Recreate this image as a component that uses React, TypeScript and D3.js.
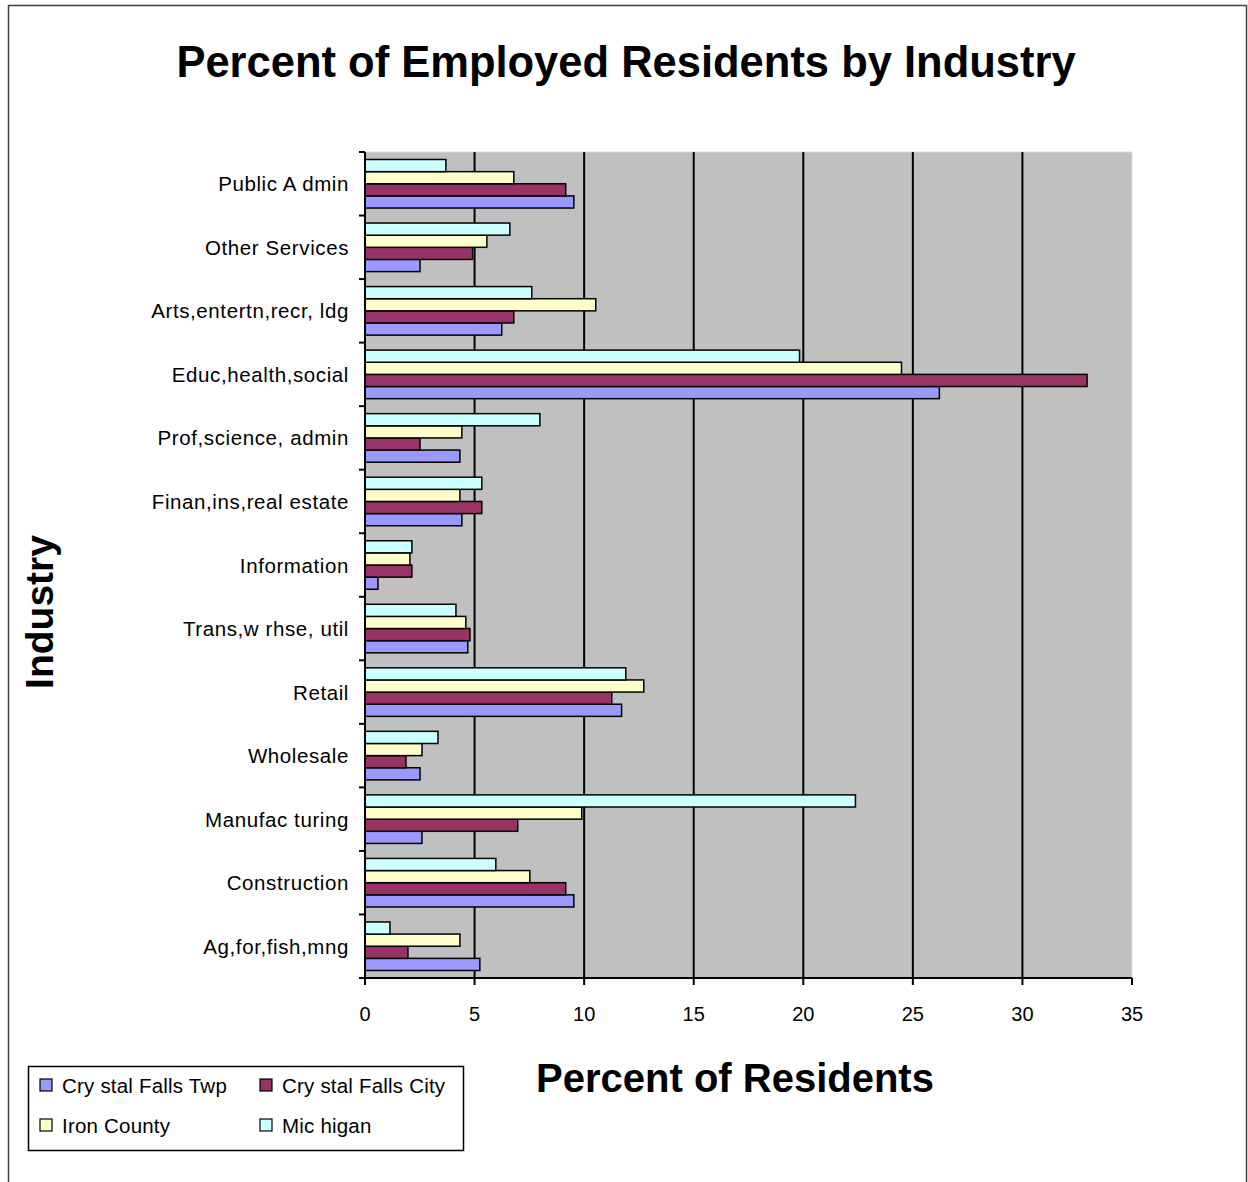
import React from "react";
import * as d3 from "d3";

const categories = [
  "Ag,for,fish,mng",
  "Construction",
  "Manufac turing",
  "Wholesale",
  "Retail",
  "Trans,w rhse, util",
  "Information",
  "Finan,ins,real estate",
  "Prof,science, admin",
  "Educ,health,social",
  "Arts,entertn,recr, ldg",
  "Other Services",
  "Public A dmin",
];

const twp = [5.24, 9.53, 2.6, 2.51, 11.71, 4.69, 0.59, 4.42, 4.33, 26.21, 6.24, 2.51, 9.53];
const city = [1.96, 9.16, 6.97, 1.87, 11.26, 4.79, 2.14, 5.33, 2.51, 32.95, 6.79, 4.91, 9.16];
const iron = [4.33, 7.52, 9.89, 2.6, 12.72, 4.6, 2.05, 4.33, 4.42, 24.48, 10.53, 5.56, 6.79];
const michigan = [1.14, 5.97, 22.38, 3.33, 11.9, 4.15, 2.14, 5.33, 7.98, 19.83, 7.61, 6.61, 3.69];

const seriesNames = ["Cry stal Falls Twp", "Cry stal Falls City", "Iron County", "Mic higan"];
const seriesColors = ["#9999FF", "#993366", "#FFFFCC", "#CCFFFF"];
const xTicks = [0, 5, 10, 15, 20, 25, 30, 35];

const FONT = "'Liberation Sans', Arial, sans-serif";

export default function App() {
  const W = 1248, H = 1182;
  const left = 365, right = 1132, top = 152, bottom = 978;
  const x = d3.scaleLinear().domain([0, 35]).range([left, right]);
  const y = d3.scaleBand<string>().domain(categories.slice().reverse()).range([top, bottom]).paddingInner(0).paddingOuter(0);
  const bw = y.bandwidth();
  const pad = bw * 0.118;
  const inner = d3.scaleBand<number>().domain([3, 2, 1, 0]).range([pad, bw - pad]);
  const series = [twp, city, iron, michigan];

  return (
    <svg width={W} height={H} style={{ position: "absolute", left: 0, top: 0, background: "#fff" }} fontFamily={FONT}>
      <rect x={0} y={0} width={W} height={H} fill="#fff" />
      <rect x={8.5} y={5.5} width={1238} height={1190} fill="none" stroke="#404040" strokeWidth={1.5} />
      <text x={626} y={77} textAnchor="middle" fontSize={43.5} fontWeight="bold">
        Percent of Employed Residents by Industry
      </text>

      <rect x={left} y={top} width={right - left} height={bottom - top} fill="#C0C0C0" stroke="#dcdcdc" strokeWidth={1} />
      {xTicks.slice(1, -1).map((t) => (
        <line key={t} x1={x(t)} x2={x(t)} y1={top} y2={bottom} stroke="#000" strokeWidth={2} />
      ))}

      {categories.map((c, i) => (
        <g key={c} transform={`translate(0,${y(c)})`}>
          {series.map((s, si) => (
            <rect
              key={si}
              x={x(0)}
              y={inner(si)}
              width={x(s[i]) - x(0)}
              height={inner.bandwidth()}
              fill={seriesColors[si]}
              stroke="#000"
              strokeWidth={1.5}
            />
          ))}
        </g>
      ))}

      <line x1={left} x2={left} y1={top} y2={bottom} stroke="#000" strokeWidth={2} />
      {d3.range(categories.length + 1).map((k) => {
        const yy = top + k * bw;
        return <line key={k} x1={left - 6} x2={left} y1={yy} y2={yy} stroke="#000" strokeWidth={2} />;
      })}
      {categories.map((c) => (
        <text key={c} x={349} y={(y(c) as number) + bw / 2} textAnchor="end" dominantBaseline="central" fontSize={20.5} letterSpacing={0.6} fill="#000">
          {c}
        </text>
      ))}

      <line x1={left} x2={right} y1={bottom} y2={bottom} stroke="#000" strokeWidth={2} />
      {xTicks.map((t) => (
        <g key={t}>
          <line x1={x(t)} x2={x(t)} y1={bottom} y2={bottom + 7} stroke="#000" strokeWidth={2} />
          <text x={x(t)} y={1021} textAnchor="middle" fontSize={20}>
            {t}
          </text>
        </g>
      ))}

      <text x={735} y={1092} textAnchor="middle" fontSize={40} fontWeight="bold">
        Percent of Residents
      </text>
      <text transform="translate(53,612) rotate(-90)" textAnchor="middle" fontSize={39} fontWeight="bold">
        Industry
      </text>

      <rect x={28.5} y={1066.5} width={435} height={84} fill="#fff" stroke="#000" strokeWidth={1.5} />
      {seriesNames.map((n, i) => {
        const col = i % 2;
        const row = Math.floor(i / 2);
        const lx = col === 0 ? 40 : 260;
        const ly = 1085 + row * 40;
        return (
          <g key={n}>
            <rect x={lx} y={ly - 6} width={12} height={12} fill={seriesColors[i]} stroke="#000" strokeWidth={1.2} />
            <text x={lx + 22} y={ly} dominantBaseline="central" fontSize={20.5} letterSpacing={0.2}>
              {n}
            </text>
          </g>
        );
      })}
    </svg>
  );
}
